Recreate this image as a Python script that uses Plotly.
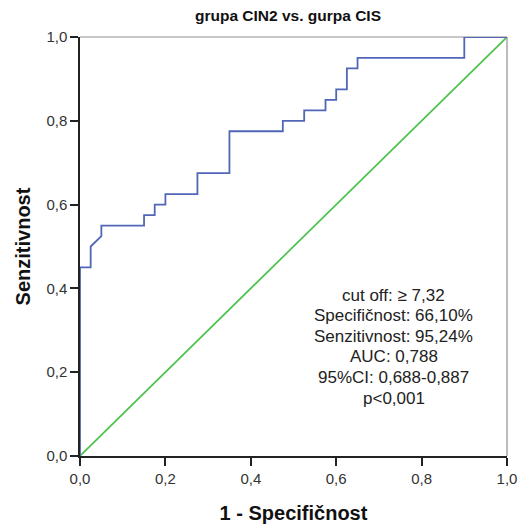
import plotly.graph_objects as go

# ROC curve data
fpr = [0, 0, 0.025, 0.025, 0.05, 0.05, 0.15, 0.15, 0.175, 0.175, 0.2, 0.2, 0.275, 0.275,
       0.35, 0.35, 0.475, 0.475, 0.525, 0.525, 0.575, 0.575, 0.6, 0.6, 0.625, 0.625,
       0.65, 0.65, 0.9, 0.9, 1.0]
tpr = [0, 0.45, 0.45, 0.5, 0.525, 0.55, 0.55, 0.575, 0.575, 0.6, 0.6, 0.625, 0.625, 0.675,
       0.675, 0.775, 0.775, 0.8, 0.8, 0.825, 0.825, 0.85, 0.85, 0.875, 0.875, 0.925,
       0.925, 0.95, 0.95, 1.0, 1.0]
ref_x = [0, 1]
ref_y = [0, 1]
tick_vals = [0, 0.2, 0.4, 0.6, 0.8, 1.0]
stats_lines = ["cut off: \u2265 7,32", "Specifičnost: 66,10%", "Senzitivnost: 95,24%",
               "AUC: 0,788", "95%CI: 0,688-0,887", "p<0,001"]
title = "grupa CIN2 vs. gurpa CIS"
x_title = "1 - Specifičnost"
y_title = "Senzitivnost"

FONT = "Liberation Sans, Arial"
W, H = 519, 525

fig = go.Figure()
fig.add_trace(go.Scatter(x=ref_x, y=ref_y, mode="lines", cliponaxis=False,
                         line=dict(color="#4cc24c", width=1.7), hoverinfo="skip"))
fig.add_trace(go.Scatter(x=fpr, y=tpr, mode="lines", cliponaxis=False,
                         line=dict(color="#5266b8", width=1.8), hoverinfo="skip"))

# frame (top/right light gray)
fig.add_shape(type="line", xref="paper", yref="paper", x0=0, x1=1, y0=1, y1=1,
              line=dict(color="#909090", width=1.2), layer="below")
fig.add_shape(type="line", xref="paper", yref="paper", x0=1, x1=1, y0=0, y1=1,
              line=dict(color="#909090", width=1.2), layer="below")

center_y = 0.261
spacing = 20.6 / 419
for i, line in enumerate(stats_lines):
    fig.add_annotation(x=0.735, y=center_y + (2.5 - i) * spacing, xref="x", yref="y",
                       text=line, showarrow=False, xanchor="center", yanchor="middle",
                       font=dict(family=FONT, size=17, color="#222"))

fig.update_layout(
    width=W, height=H,
    margin=dict(l=80, r=12, t=37, b=69, autoexpand=False),
    paper_bgcolor="white", plot_bgcolor="white",
    showlegend=False,
    separators=", ",
    title=dict(text="<b>" + title + "</b>", x=288 / W, xanchor="center", y=1 - 16 / H,
               yanchor="middle", xref="container", yref="container",
               font=dict(family=FONT, size=15.5, color="#111")),
    font=dict(family=FONT, color="#222"),
)
fig.update_xaxes(range=[0, 1], tickvals=tick_vals, tickformat=".1f", automargin=False,
                 showgrid=False, zeroline=False, showline=True, linecolor="#222", linewidth=1.5,
                 layer="below traces",
                 ticks="outside", ticklen=8, tickwidth=1.5, tickcolor="#222",
                 tickfont=dict(size=15, color="#333"),
                 title=dict(text="<b>" + x_title + "</b>", standoff=20,
                            font=dict(size=20, color="#111")))
fig.update_yaxes(range=[0, 1], tickvals=tick_vals, tickformat=".1f", automargin=False,
                 showgrid=False, zeroline=False, showline=True, linecolor="#222", linewidth=1.5,
                 layer="below traces",
                 ticks="outside", ticklen=8, tickwidth=1.5, tickcolor="#222",
                 tickfont=dict(size=15, color="#333"),
                 title=dict(text="<b>" + y_title + "</b>", standoff=10,
                            font=dict(size=20, color="#111")))

fig.write_html("out.html", config={"displayModeBar": False},
               post_script="document.body.style.margin='0px';document.body.style.overflow='hidden';")
